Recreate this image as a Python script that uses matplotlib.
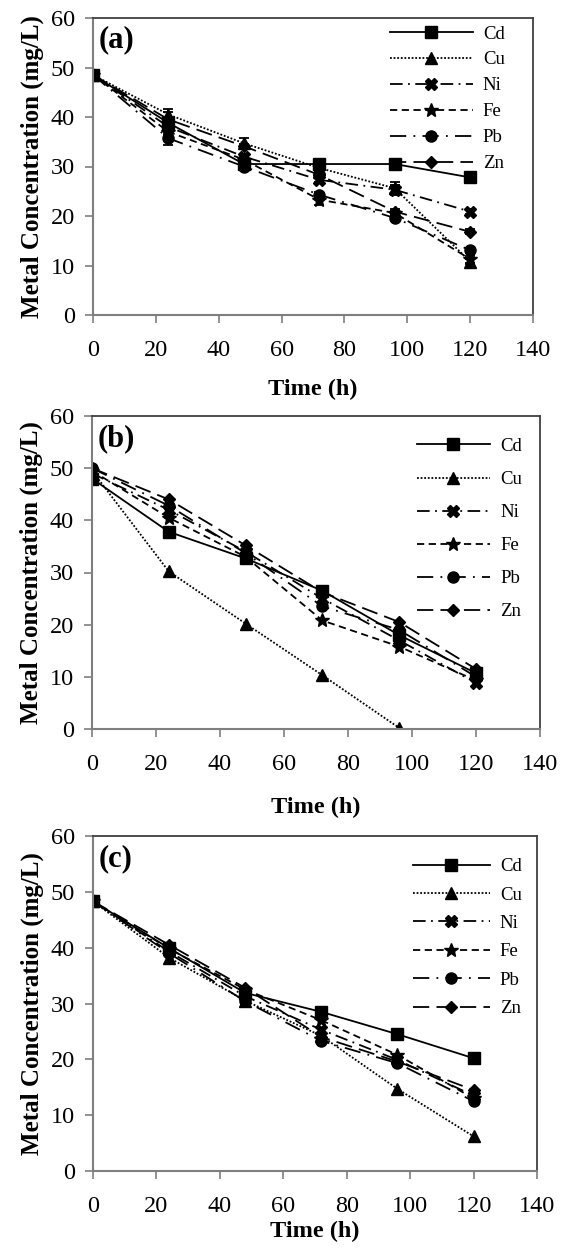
import matplotlib
matplotlib.use("Agg")
import matplotlib.pyplot as plt

plt.rcParams["font.family"] = ["Liberation Serif", "DejaVu Serif"]

# time points (h)
t = [0, 24, 48, 72, 96, 120]
metals = ["Cd", "Cu", "Ni", "Fe", "Pb", "Zn"]

# panel (a)
a_Cd = [48.5, 38.8, 30.5, 30.5, 30.5, 27.8]
a_Cu = [48.5, 40.5, 34.7, 29.7, 25.6, 10.8]
a_Ni = [48.5, 38.0, 32.0, 27.3, 25.3, 20.9]
a_Fe = [48.5, 37.0, 31.4, 23.3, 20.6, 11.3]
a_Pb = [48.5, 35.7, 30.0, 24.3, 19.6, 13.1]
a_Zn = [48.5, 39.5, 34.1, 28.3, 20.9, 16.8]
# error bars in panel (a)
a_err_Cd = [0, 1.2, 0.5, 1.0, 0.5, 1.0]
a_err_Cu = [0, 0.5, 1.0, 0.5, 1.2, 0.5]
a_err_Ni = [0, 3.6, 0.5, 0.5, 1.0, 0.5]
a_err_Fe = [0, 0.5, 0.5, 1.0, 0.5, 0.7]
a_err_Pb = [0, 0.5, 0.5, 0.5, 0.7, 0.5]
a_err_Zn = [0, 0.5, 0.5, 0.5, 0.5, 0.5]

# panel (b)  (Cu reaches 0 at 96 h)
t_b_Cu = [0, 24, 48, 72, 96]
b_Cd = [48.0, 37.8, 32.7, 26.5, 18.0, 10.7]
b_Cu = [49.5, 30.2, 20.2, 10.3, 0.2]
b_Ni = [49.0, 42.0, 34.0, 25.0, 17.0, 8.8]
b_Fe = [49.5, 40.5, 33.0, 20.8, 15.8, 9.3]
b_Pb = [50.0, 42.8, 33.7, 23.5, 19.0, 10.0]
b_Zn = [50.0, 44.0, 35.2, 26.2, 20.5, 11.5]

# panel (c)
c_Cd = [48.3, 39.9, 31.9, 28.5, 24.5, 20.2]
c_Cu = [48.3, 38.2, 30.5, 24.2, 14.7, 6.2]
c_Ni = [48.3, 39.3, 31.3, 25.3, 19.9, 13.5]
c_Fe = [48.3, 39.8, 32.5, 27.0, 20.8, 13.0]
c_Pb = [48.3, 39.0, 30.4, 23.3, 19.3, 12.5]
c_Zn = [48.3, 40.5, 32.8, 24.0, 19.6, 14.5]

styles = {
    "Cd": dict(linestyle="-", marker="s", ms=8),
    "Cu": dict(linestyle=(0, (1, 1)), marker="^", ms=8),
    "Ni": dict(linestyle=(0, (7, 3, 1, 3)), marker="X", ms=8.5),
    "Fe": dict(linestyle=(0, (4, 2.5)), marker="*", ms=10),
    "Pb": dict(linestyle=(0, (9, 4, 1, 4)), marker="o", ms=8),
    "Zn": dict(linestyle=(0, (9, 4)), marker="D", ms=6),
}

fig = plt.figure(figsize=(5.61, 12.5), dpi=100)
W, H = 561, 1250


def make_axes(left, right, top, bottom):
    return fig.add_axes([left / W, 1 - bottom / H, (right - left) / W, (bottom - top) / H])


def draw_panel(ax, series, tag, errs=None, leg_anchor=(0.7, 0.95), leg_spacing=0.45,
               handlelength=4.4, xlabelpad=15):
    lines = []
    for m in metals:
        x, y = series[m]
        st = styles[m]
        if errs is not None:
            ax.errorbar(x, y, yerr=errs[m], fmt="none", ecolor="black",
                        elinewidth=1.3, capsize=3.5, capthick=1.3)
        ln, = ax.plot(x, y, color="black", lw=1.3, label=m, **st)
        lines.append(ln)
    ax.set_xlim(0, 140)
    ax.set_ylim(0, 60)
    ax.set_xticks(range(0, 141, 20))
    ax.set_yticks(range(0, 61, 10))
    ax.tick_params(direction="out", length=6, width=1.2, color="#7f7f7f",
                   labelsize=17.5, pad=7)
    ax.tick_params(axis="x", pad=12)
    for s in ["left", "bottom"]:
        ax.spines[s].set_color("#7f7f7f")
        ax.spines[s].set_linewidth(1.5)
    for s in ["top", "right"]:
        ax.spines[s].set_color("#404040")
        ax.spines[s].set_linewidth(1.3)
    ax.set_xlabel("Time (h)", fontsize=17.5, fontweight="bold", labelpad=xlabelpad)
    ax.set_ylabel("Metal Concentration (mg/L)", fontsize=18, fontweight="bold", labelpad=5)
    ax.text(0.012, 0.975, tag, transform=ax.transAxes, fontsize=22,
            fontweight="bold", va="top", ha="left")
    ax.legend(lines, metals, loc="upper left", bbox_to_anchor=leg_anchor,
              frameon=False, fontsize=13.5, handlelength=handlelength,
              labelspacing=leg_spacing, borderaxespad=0, borderpad=0,
              handletextpad=0.55, numpoints=1)


ax_a = make_axes(93, 533, 18, 315)
draw_panel(ax_a,
           {"Cd": (t, a_Cd), "Cu": (t, a_Cu), "Ni": (t, a_Ni),
            "Fe": (t, a_Fe), "Pb": (t, a_Pb), "Zn": (t, a_Zn)},
           "(a)",
           errs={"Cd": a_err_Cd, "Cu": a_err_Cu, "Ni": a_err_Ni,
                 "Fe": a_err_Fe, "Pb": a_err_Pb, "Zn": a_err_Zn},
           leg_anchor=(0.675, 0.975), leg_spacing=0.47, handlelength=4.4,
           xlabelpad=13)

ax_b = make_axes(92, 540, 416, 729)
draw_panel(ax_b,
           {"Cd": (t, b_Cd), "Cu": (t_b_Cu, b_Cu), "Ni": (t, b_Ni),
            "Fe": (t, b_Fe), "Pb": (t, b_Pb), "Zn": (t, b_Zn)},
           "(b)", leg_anchor=(0.725, 0.93), leg_spacing=0.85, handlelength=3.9,
           xlabelpad=16)

ax_c = make_axes(93, 537, 836, 1171)
draw_panel(ax_c,
           {"Cd": (t, c_Cd), "Cu": (t, c_Cu), "Ni": (t, c_Ni),
            "Fe": (t, c_Fe), "Pb": (t, c_Pb), "Zn": (t, c_Zn)},
           "(c)", leg_anchor=(0.72, 0.934), leg_spacing=0.6, handlelength=4.1,
           xlabelpad=3)

fig.savefig("out.png", dpi=100)
